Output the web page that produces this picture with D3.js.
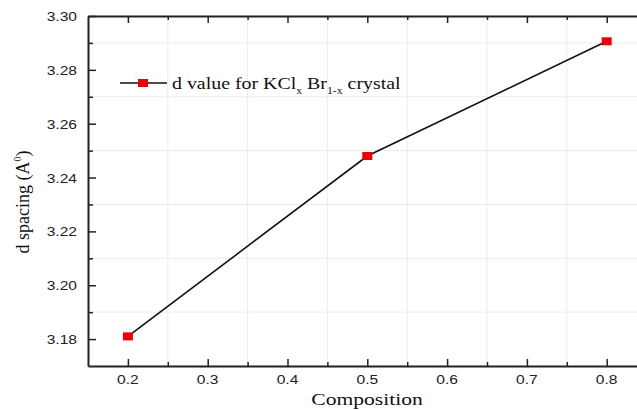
<!DOCTYPE html>
<html lang="en">
<head>
<meta charset="utf-8">
<script src="https://d3js.org/d3.v7.min.js"></script>
<style>
	body { margin: 0; background: #fff; }
	.serif { font-family: "Liberation Serif", "Times New Roman", serif; fill: #111; }
</style>
<title>d spacing</title>
</head>
<body>
<svg id="chart" width="637" height="410"></svg>
<script>
	// data
	var composition = [0.2, 0.5, 0.8];
	var dSpacing = [3.181, 3.248, 3.2906];
	var xTicks = [0.2, 0.3, 0.4, 0.5, 0.6, 0.7, 0.8];
	var yTicks = [3.18, 3.20, 3.22, 3.24, 3.26, 3.28, 3.30];
	var xMinor = [0.15, 0.25, 0.35, 0.45, 0.55, 0.65, 0.75, 0.85];
	var yMinor = [3.17, 3.19, 3.21, 3.23, 3.25, 3.27, 3.29];

	var svg = d3.select("#chart");
	var plotLeft = 88, plotTop = 16, plotBottom = 366;
	var stretch = 1.2; // the source picture is a bit wider than tall

	var x = d3.scaleLinear().domain([0.15, 0.85]).range([plotLeft, plotLeft + 0.7 * 798]);
	var y = d3.scaleLinear().domain([3.17, 3.30]).range([plotBottom, plotTop]);

	// minor grid
	svg.append("g").selectAll("line").data(xMinor).enter().append("line")
		.attr("x1", function(d) { return x(d); }).attr("x2", function(d) { return x(d); })
		.attr("y1", plotTop).attr("y2", plotBottom)
		.attr("stroke", "#ececec").attr("stroke-width", 1);
	svg.append("g").selectAll("line").data(yMinor).enter().append("line")
		.attr("x1", plotLeft).attr("x2", x(0.85))
		.attr("y1", function(d) { return y(d); }).attr("y2", function(d) { return y(d); })
		.attr("stroke", "#ececec").attr("stroke-width", 1);

	// axes (ticks inward)
	function styleAxis(g) {
		g.select(".domain").attr("stroke", "#222").attr("stroke-width", 2);
		g.selectAll(".tick line").attr("stroke", "#222").attr("stroke-width", 1.5);
	}
	function minorAxis(g) {
		g.select(".domain").remove();
		g.selectAll(".tick line").attr("stroke", "#222").attr("stroke-width", 1.5);
	}
	var xAxis = svg.append("g").attr("transform", "translate(0," + plotBottom + ")")
		.call(d3.axisBottom(x).tickValues(xTicks).tickSizeInner(-7).tickSizeOuter(0).tickFormat(""));
	styleAxis(xAxis);
	svg.append("g").attr("transform", "translate(0," + plotBottom + ")")
		.call(d3.axisBottom(x).tickValues(xMinor.slice(1, 7)).tickSize(-4).tickFormat(""))
		.call(minorAxis);

	var yAxis = svg.append("g").attr("transform", "translate(" + plotLeft + ",0)")
		.call(d3.axisLeft(y).tickValues(yTicks).tickSizeInner(-8).tickSizeOuter(0).tickFormat(""));
	styleAxis(yAxis);
	svg.append("g").attr("transform", "translate(" + plotLeft + ",0)")
		.call(d3.axisLeft(y).tickValues(yMinor.slice(1)).tickSize(-5).tickFormat(""))
		.call(minorAxis);

	var topAxis = svg.append("g").attr("transform", "translate(0," + plotTop + ")")
		.call(d3.axisTop(x).tickValues(xTicks).tickSizeInner(-7).tickSizeOuter(0).tickFormat(""));
	styleAxis(topAxis);
	svg.append("g").attr("transform", "translate(0," + plotTop + ")")
		.call(d3.axisTop(x).tickValues(xMinor.slice(1, 7)).tickSize(-4).tickFormat(""))
		.call(minorAxis);

	// tick labels, stretched sideways like the source
	var labelFont = "'Liberation Sans', Arial, sans-serif";
	svg.append("g").selectAll("text").data(xTicks).enter().append("text")
		.attr("transform", function(d) { return "translate(" + x(d) + ",384) scale(" + stretch + ",1)"; })
		.attr("text-anchor", "middle")
		.style("font-family", labelFont).style("font-size", "13px").attr("fill", "#222")
		.text(d3.format(".1f"));
	svg.append("g").selectAll("text").data(yTicks).enter().append("text")
		.attr("transform", function(d) { return "translate(77," + (y(d) + 5) + ") scale(" + stretch + ",1)"; })
		.attr("text-anchor", "end")
		.style("font-family", labelFont).style("font-size", "13px").attr("fill", "#222")
		.text(d3.format(".2f"));

	// line and markers
	var pts = composition.map(function(c, i) { return {x: c, y: dSpacing[i]}; });
	var line = d3.line().x(function(d) { return x(d.x); }).y(function(d) { return y(d.y); });
	svg.append("path").datum(pts).attr("d", line)
		.attr("fill", "none").attr("stroke", "#111").attr("stroke-width", 1.6);
	svg.selectAll("rect.pt").data(pts).enter().append("rect").attr("class", "pt")
		.attr("x", function(d) { return x(d.x) - 5; })
		.attr("y", function(d) { return y(d.y) - 4; })
		.attr("width", 10).attr("height", 8)
		.attr("fill", "#e8000b");

	// legend
	var lg = svg.append("g").attr("transform", "translate(120,83)");
	lg.append("line").attr("x1", 0).attr("x2", 47).attr("y1", 0).attr("y2", 0)
		.attr("stroke", "#111").attr("stroke-width", 1.6);
	lg.append("rect").attr("x", 18).attr("y", -4).attr("width", 10).attr("height", 8).attr("fill", "#e8000b");
	var lt = lg.append("text").attr("class", "serif")
		.attr("transform", "translate(52,6) scale(1.17,1)").style("font-size", "17px");
	lt.append("tspan").text("d value for KCl");
	lt.append("tspan").attr("dy", 5).style("font-size", "10px").text("x");
	lt.append("tspan").attr("dy", -5).text(" Br");
	lt.append("tspan").attr("dy", 5).style("font-size", "10px").text("1-x");
	lt.append("tspan").attr("dy", -5).text(" crystal");

	// axis titles
	svg.append("text").attr("class", "serif")
		.attr("transform", "translate(367,405) scale(1.27,1)")
		.attr("text-anchor", "middle")
		.style("font-size", "17px").text("Composition");

	var yl = svg.append("text").attr("class", "serif")
		.attr("transform", "translate(29,202) rotate(-90)")
		.attr("text-anchor", "middle").style("font-size", "18px");
	yl.append("tspan").text("d spacing (A");
	yl.append("tspan").attr("dy", -8).style("font-size", "10px").text("0");
	yl.append("tspan").attr("dy", 8).text(")");
</script>
</body>
</html>
